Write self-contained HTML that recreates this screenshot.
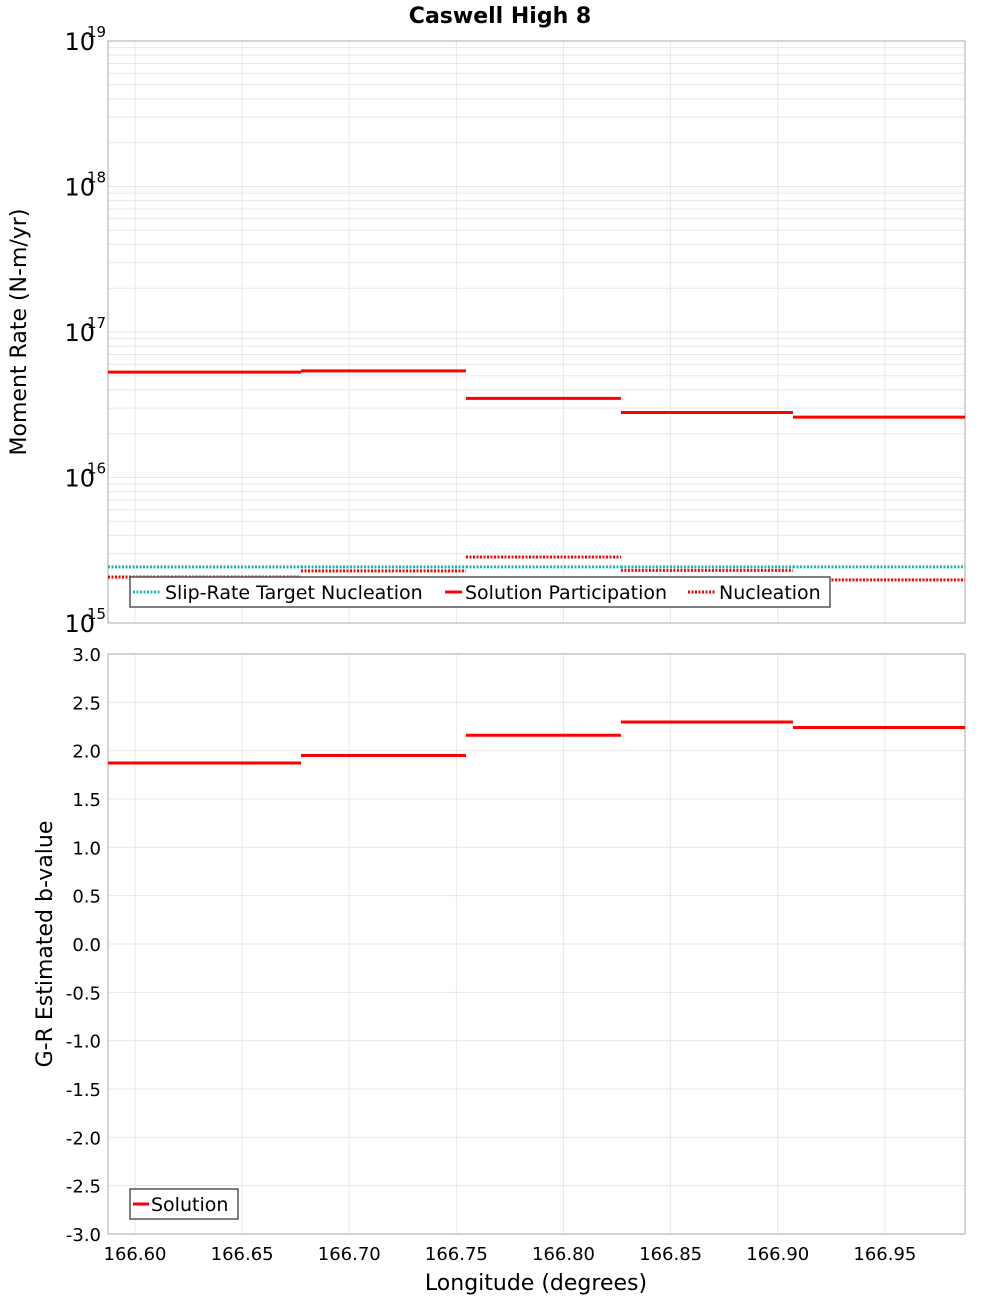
<!DOCTYPE html>
<html><head><meta charset="utf-8"><style>
body{margin:0;background:#fff;}
svg{display:block;font-family:"DejaVu Sans","Liberation Sans",sans-serif;}
</style></head><body>
<svg id="c" width="1000" height="1300" xmlns="http://www.w3.org/2000/svg"></svg>
<script>
const segStart=[166.5874,166.6775,166.7545,166.8268,166.9071];
const segEnd=[166.6775,166.7545,166.8268,166.9071,166.9874];
const participation=[5.3e16,5.4e16,3.5e16,2.8e16,2.6e16];
const nucleation=[2.07e15,2.28e15,2.84e15,2.3e15,1.98e15];
const slipTarget=[2.43e15,2.43e15,2.43e15,2.43e15,2.43e15];
const bValues=[1.873,1.95,2.16,2.296,2.24];
const xTicks=[166.60,166.65,166.70,166.75,166.80,166.85,166.90,166.95];
const bTicks=[3.0,2.5,2.0,1.5,1.0,0.5,0.0,-0.5,-1.0,-1.5,-2.0,-2.5,-3.0];
const logTicks=[15,16,17,18,19];

const svg=document.getElementById('c');
const NS='http://www.w3.org/2000/svg';
function mk(t,a,p){const e=document.createElementNS(NS,t);for(const k in a)e.setAttribute(k,a[k]);(p||svg).appendChild(e);return e;}
const L=108,R=965,T1=41,B1=623,T2=654,B2=1234;
const X0=166.5874,X1=166.9874;
function xs(v){return L+(v-X0)/(X1-X0)*(R-L);}
function ys1(v){return T1+(19-Math.log10(v))/4*(B1-T1);}
function ys2(v){return T2+(3-v)/6*(B2-T2);}
const grid='#e8e8e8';
for(const [t,b] of [[T1,B1],[T2,B2]]){
  xTicks.forEach(v=>{const g=mk('line',{x1:xs(v),x2:xs(v),y1:t,y2:b,stroke:grid});
    });
}
for(let d=15;d<19;d++){for(let m=1;m<10;m++){const y=ys1(m*Math.pow(10,d));
  const g=mk('line',{x1:L,x2:R,y1:y,y2:y,stroke:grid});
  }}
logTicks.forEach(d=>{const y=ys1(Math.pow(10,d));
  const t=mk('text',{x:95,y:y+9,'font-size':24,'text-anchor':'end',fill:'#000'});
  t.textContent='10';
  const s=mk('text',{x:87,y:y-4,'font-size':15,fill:'#000'});s.textContent=String(d);
  });
bTicks.forEach(v=>{const y=ys2(v);
  const g=mk('line',{x1:L,x2:R,y1:y,y2:y,stroke:grid});
  
  const t=mk('text',{x:101,y:y+7,'font-size':18,'text-anchor':'end',fill:'#000'});t.textContent=v.toFixed(1);
  });
xTicks.forEach(v=>{const t=mk('text',{x:xs(v),y:1260,'font-size':18,'text-anchor':'middle',fill:'#000'});t.textContent=v.toFixed(2);
  });
for(const [t,b] of [[T1,B1],[T2,B2]]){
  const r=mk('rect',{x:L,y:t,width:R-L,height:b-t,fill:'none',stroke:'#aaa','stroke-width':1});
  
  
}
function seg(vals,yf,color,dash,name){vals.forEach((v,i)=>{const y=yf(v);
  const a={x1:xs(segStart[i]),x2:xs(segEnd[i]),y1:y,y2:y,stroke:color,'stroke-width':3};
  if(dash)a['stroke-dasharray']=dash;const l=mk('line',a);
  });}
seg(slipTarget,ys1,'#1bb5b5','2,1.5','slip-rate-target-segment');
seg(nucleation,ys1,'#ff0000','2,1.5','nucleation-segment');
seg(participation,ys1,'#ff0000',null,'participation-segment');
seg(bValues,ys2,'#ff0000',null,'b-value-segment');
</script>
<svg style="position:absolute;left:0;top:0;font-family:'DejaVu Sans','Liberation Sans',sans-serif" width="1000" height="1300" xmlns="http://www.w3.org/2000/svg">
<text x="500" y="23" font-size="22" font-weight="bold" text-anchor="middle">Caswell High 8</text>
<text transform="translate(26,332) rotate(-90)" font-size="22" text-anchor="middle">Moment Rate (N-m/yr)</text>
<text transform="translate(52,944) rotate(-90)" font-size="22" text-anchor="middle">G-R Estimated b-value</text>
<text x="536" y="1290" font-size="22" text-anchor="middle">Longitude (degrees)</text>
<g font-size="19">
<rect x="130" y="577" width="700" height="30" fill="#fff" stroke="#555" stroke-width="1.5"/>
<line x1="133" x2="161" y1="592" y2="592" stroke="#1bb5b5" stroke-width="3" stroke-dasharray="2,1.5"/>
<text x="165" y="599">Slip-Rate Target Nucleation</text>
<line x1="445" x2="462" y1="592" y2="592" stroke="#f00" stroke-width="3"/>
<text x="465" y="599">Solution Participation</text>
<line x1="688" x2="716" y1="592" y2="592" stroke="#f00" stroke-width="3" stroke-dasharray="2,1.5"/>
<text x="719" y="599">Nucleation</text>
</g>
<g font-size="19">
<rect x="130" y="1189" width="108" height="30" fill="#fff" stroke="#555" stroke-width="1.5"/>
<line x1="133" x2="149" y1="1204" y2="1204" stroke="#f00" stroke-width="3"/>
<text x="151" y="1211">Solution</text>
</g>
</svg>
</body></html>
